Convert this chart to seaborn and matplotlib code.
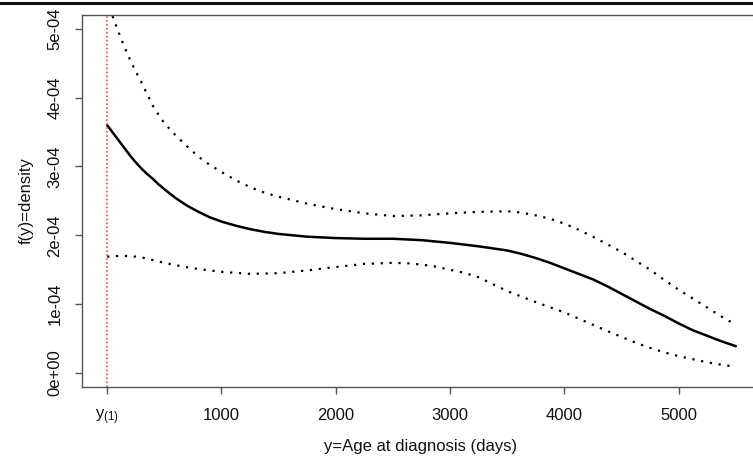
import matplotlib
matplotlib.use("Agg")
import matplotlib.pyplot as plt
from matplotlib.lines import Line2D
import seaborn as sns
import pandas as pd

# ---- data, density in units of 1e-4 ----
est_x = [0, 50, 100, 150, 200, 250, 300, 350, 400, 450, 500, 600, 700, 800, 900,
         1000, 1125, 1250, 1375, 1500, 1750, 2000, 2250, 2500, 2750, 3000, 3250,
         3500, 3625, 3750, 3875, 4000, 4125, 4250, 4375, 4500, 4625, 4750, 4875,
         5000, 5125, 5250, 5375, 5500]
est_y = [3.60, 3.49, 3.38, 3.27, 3.16, 3.06, 2.97, 2.89, 2.82, 2.74, 2.67, 2.54,
         2.43, 2.34, 2.26, 2.20, 2.14, 2.09, 2.05, 2.02, 1.98, 1.96, 1.95, 1.95,
         1.93, 1.89, 1.84, 1.78, 1.73, 1.67, 1.60, 1.52, 1.44, 1.36, 1.26, 1.15,
         1.04, 0.93, 0.83, 0.72, 0.62, 0.54, 0.46, 0.39]

upper_x = [0, 50, 100, 150, 200, 250, 300, 350, 400, 450, 500, 600, 700, 800, 900,
           1000, 1125, 1250, 1375, 1500, 1750, 2000, 2250, 2500, 2750, 3000, 3250,
           3500, 3625, 3750, 3875, 4000, 4125, 4250, 4375, 4500, 4625, 4750, 4875,
           5000, 5125, 5250, 5375, 5500]
upper_y = [5.45, 5.17, 4.95, 4.74, 4.55, 4.38, 4.22, 4.05, 3.88, 3.75, 3.63, 3.45,
           3.29, 3.14, 3.02, 2.92, 2.80, 2.70, 2.62, 2.56, 2.46, 2.38, 2.32, 2.28,
           2.29, 2.32, 2.34, 2.35, 2.33, 2.29, 2.24, 2.17, 2.08, 1.98, 1.87, 1.76,
           1.63, 1.50, 1.35, 1.21, 1.08, 0.95, 0.82, 0.70]

lower_x = [0, 100, 200, 300, 400, 500, 650, 800, 1000, 1250, 1500, 1750, 2000,
           2250, 2500, 2625, 2750, 2875, 3000, 3125, 3250, 3375, 3500, 3625, 3750,
           3875, 4000, 4125, 4250, 4375, 4500, 4625, 4750, 4875, 5000, 5125, 5250,
           5375, 5500]
lower_y = [1.69, 1.70, 1.70, 1.68, 1.64, 1.60, 1.55, 1.51, 1.47, 1.44, 1.45, 1.49,
           1.54, 1.585, 1.60, 1.595, 1.575, 1.545, 1.50, 1.455, 1.39, 1.29, 1.19,
           1.11, 1.03, 0.955, 0.88, 0.79, 0.70, 0.61, 0.525, 0.44, 0.365, 0.30,
           0.245, 0.20, 0.155, 0.12, 0.09]

scale = 1e-4
y_min_obs = 0
x_ticks = [0, 1000, 2000, 3000, 4000, 5000]
x_tick_labels = [r"$\mathregular{y_{(1)}}$", "1000", "2000", "3000", "4000", "5000"]
y_ticks = [0, 1e-4, 2e-4, 3e-4, 4e-4, 5e-4]
y_tick_labels = ["0e+00", "1e-04", "2e-04", "3e-04", "4e-04", "5e-04"]

df_est = pd.DataFrame({"x": est_x, "y": [v * scale for v in est_y]})
df_up = pd.DataFrame({"x": upper_x, "y": [v * scale for v in upper_y]})
df_lo = pd.DataFrame({"x": lower_x, "y": [v * scale for v in lower_y]})

sns.set_theme(style="white")
plt.rcParams["font.family"] = ["Liberation Sans", "DejaVu Sans"]
plt.rcParams["mathtext.fontset"] = "custom"
plt.rcParams["mathtext.rm"] = "Liberation Sans"

W, H = 753, 457
fig = plt.figure(figsize=(W / 100, H / 100), dpi=100)
ax = fig.add_axes([82 / W, (H - 387) / H, (761 - 82) / W, (387 - 15) / H])

dot = (0, (1, 3))
sns.lineplot(data=df_up, x="x", y="y", ax=ax, color="black", lw=1.6,
             linestyle=dot, estimator=None)
sns.lineplot(data=df_lo, x="x", y="y", ax=ax, color="black", lw=1.6,
             linestyle=dot, estimator=None)
sns.lineplot(data=df_est, x="x", y="y", ax=ax, color="black", lw=1.8,
             estimator=None)
ax.axvline(y_min_obs, color="#ff2a2a", lw=1.1, linestyle=(0, (1, 1.6)))

ax.set_xlim(-220, 5720)
ax.set_ylim(-2.03e-5, 5.2e-4)
ax.set_xticks(x_ticks)
ax.set_xticklabels(x_tick_labels)
ax.set_yticks(y_ticks)
ax.set_yticklabels(y_tick_labels, rotation=90, va="center")

for s in ax.spines.values():
    s.set_color("#555555")
    s.set_linewidth(1.0)
ax.tick_params(axis="both", direction="out", length=5, width=1.0,
               color="#555555", labelsize=12, labelcolor="#111111")
ax.tick_params(axis="x", pad=10, bottom=True)
ax.tick_params(axis="y", pad=9, left=True)

ax.set_xlabel("y=Age at diagnosis (days)", fontsize=12, color="#111111")
ax.set_ylabel("f(y)=density", fontsize=12, color="#111111")
ax.xaxis.set_label_coords((421 - 82) / (761 - 82), -(446 - 387) / 372)
ax.xaxis.label.set_va("center")
ax.yaxis.set_label_coords(-(82 - 26) / (761 - 82), 0.5)
ax.yaxis.label.set_va("center")

fig.add_artist(Line2D([0, 1], [1 - 3.3 / H] * 2, transform=fig.transFigure,
                      color="#111111", lw=2.2))

fig.savefig("out.png", dpi=100)
